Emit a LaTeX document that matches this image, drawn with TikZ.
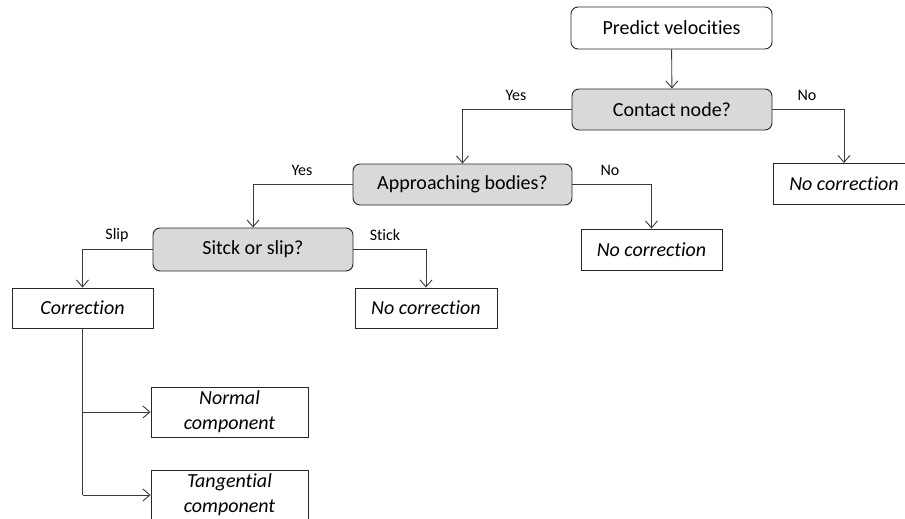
\documentclass[tikz,border=0pt]{standalone}
\usepackage{fontspec}
\setmainfont[Ligatures=NoCommon]{Carlito}
\usetikzlibrary{arrows.meta}
\definecolor{linec}{HTML}{3A3A3A}
\definecolor{decfill}{HTML}{D9D9D9}
\tikzset{
  base/.style={draw=black!85, line width=0.9pt, inner sep=0pt, align=center,
    font=\fontsize{20}{25}\selectfont},
  startbox/.style={base, rounded corners=7pt, fill=white},
  decbox/.style={base, rounded corners=7pt, fill=decfill},
  resbox/.style={base, fill=white, font=\fontsize{20}{25}\selectfont\itshape},
  conn/.style={draw=linec, line width=0.9pt, -{Straight Barb[length=7pt,width=12pt,line width=0.9pt]}},
  plain/.style={draw=linec, line width=0.9pt},
  lbl/.style={font=\fontsize{16}{18}\selectfont, inner sep=0pt}
}
\begin{document}
\begin{tikzpicture}[x=1pt,y=-1pt]
\useasboundingbox (0,0) rectangle (905,519);
\clip (0,0) rectangle (905,519);
\node[startbox, minimum width=201pt, minimum height=42pt] (pred) at (671.5,28) {Predict velocities};
\node[decbox, minimum width=200pt, minimum height=41pt] (cont) at (672,109.5) {Contact node?};
\node[resbox, minimum width=142pt, minimum height=41pt] (nc1) at (844,184) {No correction};
\node[decbox, minimum width=219pt, minimum height=41pt] (appr) at (462.5,184.5) {Approaching bodies?};
\node[resbox, minimum width=141pt, minimum height=41pt] (nc2) at (651.5,249.5) {No correction};
\node[decbox, minimum width=200pt, minimum height=43pt] (stick) at (253,249.5) {Sitck or slip?};
\node[resbox, minimum width=141pt, minimum height=40pt] (corr) at (82.5,308) {Correction};
\node[resbox, minimum width=142pt, minimum height=40pt] (nc3) at (426,308) {No correction};
\node[resbox, minimum width=157pt, minimum height=50pt] (norm) at (229.5,412) {Normal\\component};
\node[resbox, minimum width=157pt, minimum height=50pt] (tang) at (229.5,495) {Tangential\\component};

\draw[conn] (pred) -- (cont);
\draw[conn] (cont.west) -| (appr.north);
\draw[conn] (cont.east) -| (nc1.north);
\draw[conn] (appr.west) -| (stick.north);
\draw[conn] (appr.east) -| (nc2.north);
\draw[conn] (stick.west) -| (corr.north);
\draw[conn] (stick.east) -| (nc3.north);
\coordinate (trunk) at (corr.south |- tang.west);
\draw[plain] (corr.south) -- (trunk);
\draw[conn] (corr.south |- norm.west) -- (norm.west);
\draw[conn] (trunk) -- (tang.west);

\node[lbl] (l1) at (516,95) {Yes};
\node[lbl] (l2) at (807,95) {No};
\node[lbl] (l3) at (302,170) {Yes};
\node[lbl] (l4) at (610,170) {No};
\node[lbl] (l5) at (117,235) {Slip};
\node[lbl] (l6) at (385,235) {Stick};
\end{tikzpicture}
\end{document}
